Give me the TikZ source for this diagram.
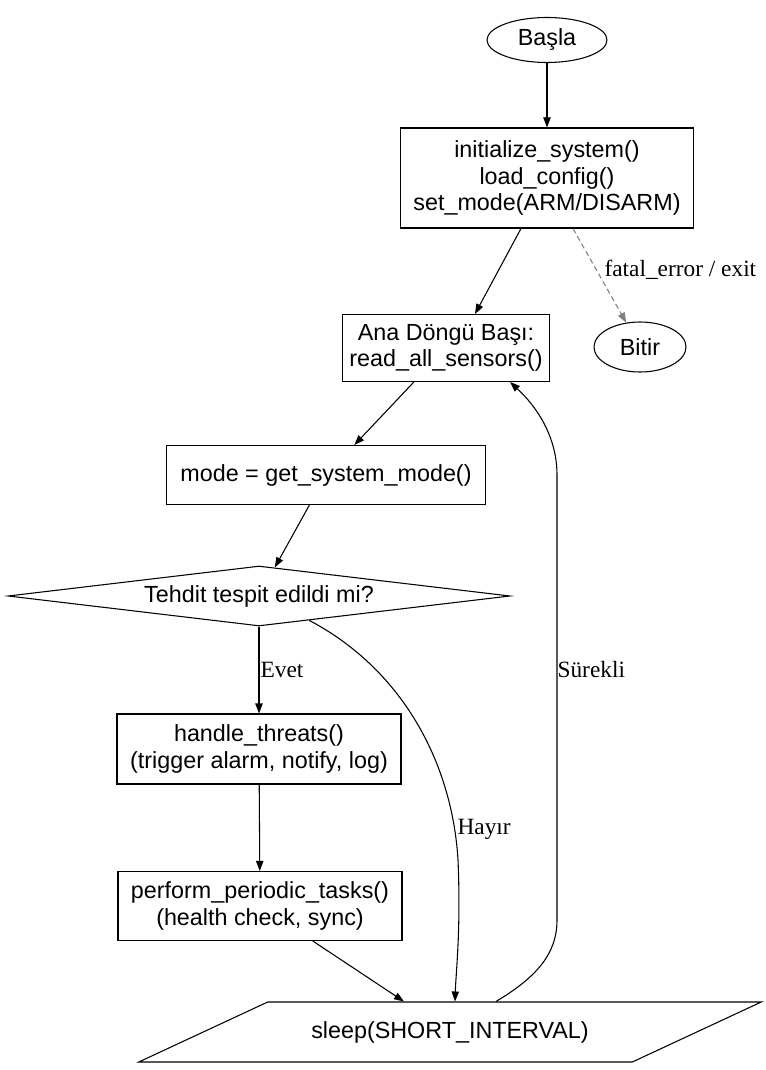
\documentclass[tikz,border=0pt]{standalone}
\usepackage{fontspec}
\setmainfont{Liberation Serif}
\newfontfamily\arialfont{Liberation Sans}
\usetikzlibrary{shapes.geometric, arrows.meta, positioning, calc}
\tikzset{
  box/.style={rectangle, draw=black, line width=0.8pt, inner sep=0pt,
    align=center, font=\arialfont\fontsize{17.5}{20}\selectfont},
  term/.style={ellipse, draw=black, line width=0.8pt, inner sep=0pt,
    font=\arialfont\fontsize{17.5}{20}\selectfont},
  decision/.style={diamond, aspect=8.4, draw=black, line width=0.8pt, inner sep=0pt,
    font=\arialfont\fontsize{17.5}{20}\selectfont},
  iobox/.style={trapezium, trapezium left angle=12.5, trapezium right angle=167.5,
    trapezium stretches=true, draw=black, line width=0.8pt, inner sep=0pt,
    font=\arialfont\fontsize{17.5}{20}\selectfont},
  arrow/.style={-{Triangle[length=7.5pt,width=5.5pt]}, line width=0.8pt, color=black},
  failarrow/.style={-{Triangle[length=7.5pt,width=5.5pt]}, line width=0.8pt,
    color=gray, dash pattern=on 4pt off 2.5pt},
  lbl/.style={font=\fontsize{17.5}{20}\selectfont, inner sep=1pt}
}

\begin{document}
\begin{tikzpicture}[x=0.75pt, y=-0.75pt]
  \useasboundingbox (0,0) rectangle (766,1070);
  \node[term, minimum width=90pt, minimum height=33.75pt] (basla) at (547,40) {Başla};
  \node[box, minimum width=219.75pt, minimum height=75pt] (init) at (547,178)
    {initialize\_system()\\load\_config()\\set\_mode(ARM/DISARM)};
  \node[term, minimum width=69pt, minimum height=37.5pt] (bitir) at (640,347) {Bitir};
  \node[box, minimum width=155.25pt, minimum height=50.25pt] (ana) at (446,348)
    {Ana Döngü Başı:\\read\_all\_sensors()};
  \node[box, minimum width=239.25pt, minimum height=44.25pt] (mode) at (326,475)
    {mode = get\_system\_mode()};
  \node[decision, minimum width=376.5pt, minimum height=45pt] (dec) at (259,596)
    {Tehdit tespit edildi mi?};
  \node[box, minimum width=213pt, minimum height=52.5pt] (handle) at (259,749)
    {handle\_threats()\\(trigger alarm, notify, log)};
  \node[box, minimum width=213pt, minimum height=51.75pt] (perform) at (260,906)
    {perform\_periodic\_tasks()\\(health check, sync)};
  \node[iobox, minimum width=468pt, minimum height=45pt] (sleep) at (450,1032)
    {sleep(SHORT\_INTERVAL)};

  \draw[arrow] (basla) -- (init);
  \draw[arrow] ($(init.south)+(-26,0)$) -- ($(ana.north)+(29,0)$);
  \draw[failarrow] ($(init.south)+(26,0)$) -- (bitir);
  \node[lbl, anchor=west] (lblfatal) at (603,270) {fatal\_error / exit};
  \draw[arrow] (ana) -- (mode);
  \draw[arrow] (mode) -- (dec);
  \draw[arrow] (dec) -- (handle);
  \node[lbl, anchor=west] (lblevet) at (259,670) {Evet};
  \draw[arrow] ($(dec.south)!0.2!(dec.east)$) .. controls (400,668) and (452,760) .. (458,860)
    .. controls (461,930) and (456,970) .. ($(sleep.north)+(5,0)$);
  \node[lbl, anchor=west] (lblhayir) at (456,829) {Hayır};
  \draw[arrow] (handle) -- (perform);
  \draw[arrow] (perform) -- (sleep);
  \draw[arrow] ($(sleep.north)+(46,0)$) .. controls (535,978) and (557,955) .. (557,920)
    -- (557,475) .. controls (557,435) and (535,405) .. ($(ana.south)+(64,0)$);
  \node[lbl, anchor=west] (lblsurekli) at (556,670) {Sürekli};
\end{tikzpicture}
\end{document}
